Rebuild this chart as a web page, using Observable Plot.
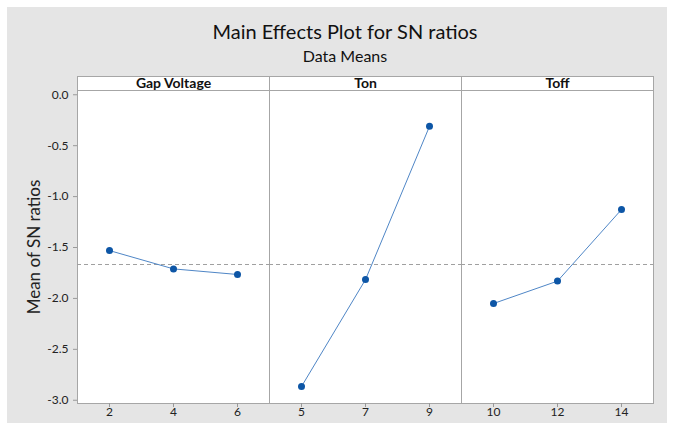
<!DOCTYPE html>
<html><head><meta charset="utf-8">
<script src="https://cdn.jsdelivr.net/npm/d3@7"></script>
<script src="https://cdn.jsdelivr.net/npm/@observablehq/plot@0.6"></script>
<style>
body{margin:0;background:#fff;font-family:Lato,sans-serif;}
#wrap{position:absolute;left:7px;top:7px;width:660px;height:416px;background:#e5e5e5;}
#title{position:absolute;left:16px;width:644px;top:12px;text-align:center;font-size:20px;line-height:24px;color:#111;}
#sub{position:absolute;left:16px;width:644px;top:39px;text-align:center;font-size:16px;line-height:19px;color:#111;}
#chart{position:absolute;left:0;top:58px;}
g[aria-label="y-axis label"] text{font-size:17px;}
</style></head><body>
<div id="wrap"><div id="title">Main Effects Plot for SN ratios</div><div id="sub">Data Means</div><div id="chart"></div></div>
<script>
const factors = ["Gap Voltage", "Ton", "Toff"];
const gapLevels = [2, 4, 6];
const gapMeans = [-1.53, -1.71, -1.765];
const tonLevels = [5, 7, 9];
const tonMeans = [-2.865, -1.815, -0.31];
const toffLevels = [10, 12, 14];
const toffMeans = [-2.05, -1.83, -1.127];
const overallMean = -1.667;
const yTicks = [0, -0.5, -1, -1.5, -2, -2.5, -3];
const yDomain = [-3.032, 0.042];

const levelSets = [gapLevels, tonLevels, toffLevels];
const meanSets = [gapMeans, tonMeans, toffMeans];
const points = [];
factors.forEach((f, k) => levelSets[k].forEach((lv, i) => points.push({factor: f, i, level: String(lv), mean: meanSets[k][i]})));

const W = 660, H = 358, mT = 25, mB = 20, mL = 70, mR = 14;
const innerH = H - mT - mB;

const chart = Plot.plot({
  width: W, height: H, marginTop: mT, marginBottom: mB, marginLeft: mL, marginRight: mR,
  style: {background: "transparent", fontFamily: "Lato, sans-serif", overflow: "visible"},
  fx: {domain: factors, padding: 0, axis: null},
  x: {type: "point", domain: [0, 1, 2], padding: 0.5, axis: null},
  y: {domain: yDomain},
  marks: [
    Plot.frame({fill: "white", stroke: "#a6a6a6", insetTop: -14}),
    Plot.frame({anchor: "top", stroke: "#a6a6a6"}),
    Plot.ruleY([overallMean], {stroke: "#a0a0a0", strokeDasharray: "4,3"}),
    Plot.line(points, {fx: "factor", x: "i", y: "mean", stroke: "#4f86c6", strokeWidth: 1}),
    Plot.dot(points, {fx: "factor", x: "i", y: "mean", r: 3.5, fill: "#0d56a6"}),
    Plot.text(factors, {fx: d => d, text: d => d, frameAnchor: "top", dy: -12, fontWeight: "bold", fontSize: 14, fill: "#111"}),
    Plot.tickX(points, {fx: "factor", x: "i", insetTop: innerH, insetBottom: -4, stroke: "#999"}),
    Plot.text(points, {fx: "factor", x: "i", text: "level", frameAnchor: "bottom", dy: 12, fontSize: 12, fill: "#222"}),
    Plot.axisY(yTicks, {tickFormat: d => d.toFixed(1), tickSize: 4, stroke: "#999", fill: "#222", fontSize: 12,
      label: "Mean of SN ratios", labelArrow: "none", labelAnchor: "center", labelOffset: 50})
  ]
});
document.getElementById("chart").appendChild(chart);
</script>
</body></html>
